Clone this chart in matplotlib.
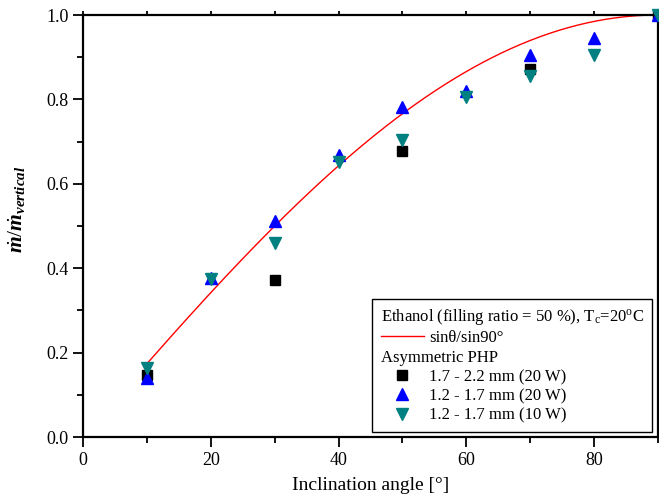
import numpy as np
import matplotlib
matplotlib.use('Agg')
import matplotlib.pyplot as plt
from matplotlib.lines import Line2D

plt.rcParams['font.family'] = ['Liberation Serif', 'DejaVu Serif']
plt.rcParams['mathtext.fontset'] = 'custom'
plt.rcParams['mathtext.rm'] = 'Liberation Serif'
plt.rcParams['mathtext.it'] = 'Liberation Serif:italic:bold'
plt.rcParams['mathtext.bf'] = 'Liberation Serif:bold'

# data
angle_a = [10, 30, 50, 70, 90]
ratio_a = [0.147, 0.372, 0.678, 0.872, 1.0]   # 1.7 - 2.2 mm (20 W)

angle_b = [10, 20, 30, 40, 50, 60, 70, 80, 90]
ratio_b = [0.140, 0.377, 0.512, 0.668, 0.782, 0.820, 0.905, 0.945, 1.0]  # 1.2 - 1.7 mm (20 W)

angle_c = [10, 20, 30, 40, 50, 60, 70, 80, 90]
ratio_c = [0.163, 0.374, 0.460, 0.652, 0.704, 0.806, 0.856, 0.905, 1.0]  # 1.2 - 1.7 mm (10 W)

# reference curve sin(theta)/sin(90)
theta = np.linspace(10, 90, 161)
sin_ratio = np.sin(np.radians(theta)) / np.sin(np.radians(90))

fig = plt.figure(figsize=(6.59, 4.95), dpi=100)
ax = fig.add_axes([83 / 659, 1 - 437 / 495, 575 / 659, 422 / 495])

line, = ax.plot(theta, sin_ratio, color='#ff0000', lw=1.0, zorder=2)
sq, = ax.plot(angle_a, ratio_a, 's', color='black', ms=7, ls='none', clip_on=False, zorder=3)
up, = ax.plot(angle_b, ratio_b, '^', color='#0000ff', ms=9, ls='none', clip_on=False, zorder=4)
dn, = ax.plot(angle_c, ratio_c, 'v', color='#008080', ms=9, ls='none', clip_on=False, zorder=5)

ax.set_xlim(0, 90)
ax.set_ylim(0, 1.0)
ax.set_xticks([0, 20, 40, 60, 80])
ax.set_xticks([10, 30, 50, 70, 90], minor=True)
ax.set_yticks([0.0, 0.2, 0.4, 0.6, 0.8, 1.0])
ax.set_yticks([0.1, 0.3, 0.5, 0.7, 0.9], minor=True)
ax.yaxis.set_major_formatter(matplotlib.ticker.FormatStrFormatter('%.1f'))
ax.tick_params(which='major', direction='out', length=7, width=1.3, labelsize=13,
               top=True, right=False)
ax.tick_params(which='minor', direction='out', length=4, width=1.3, top=True, right=False)
# shorter ticks along the top edge
for t in ax.xaxis.get_major_ticks() + ax.xaxis.get_minor_ticks():
    t.tick2line.set_markersize(3)
for sp in ax.spines.values():
    sp.set_linewidth(1.6)

ax.set_xlabel('Inclination angle [°]', fontsize=14, labelpad=6)
ax.set_ylabel(r'$\dot{m}/\dot{m}_{vertical}$', fontsize=15.5, labelpad=6)
ax.yaxis.set_label_coords(-0.095, 0.54)

blank = Line2D([], [], ls='none')
handles = [line, blank, sq, up, dn]
labels = ['sinθ/sin90°', 'Asymmetric PHP', '1.7 - 2.2 mm (20 W)',
          '1.2 - 1.7 mm (20 W)', '1.2 - 1.7 mm (10 W)']
leg = ax.legend(handles, labels, title='Ethanol (filling ratio = 50 %), T$_{\\mathrm{c}}$=20$^{\\mathrm{o}}$C',
                loc='lower right', bbox_to_anchor=(0.99, 0.012), borderaxespad=0,
                fontsize=12, title_fontsize=12, alignment='left', fancybox=False,
                edgecolor='black', framealpha=1, handlelength=2.6, handletextpad=0.3,
                labelspacing=0.2, borderpad=0.5)
leg.get_frame().set_linewidth(1.0)
# pull the "Asymmetric PHP" row left, it has no marker
try:
    rows = leg._legend_handle_box.get_children()[0].get_children()
    rows[1].get_children()[0].width = 0
    rows[1].sep = 0
except Exception:
    pass

fig.savefig('out.png', dpi=100)
